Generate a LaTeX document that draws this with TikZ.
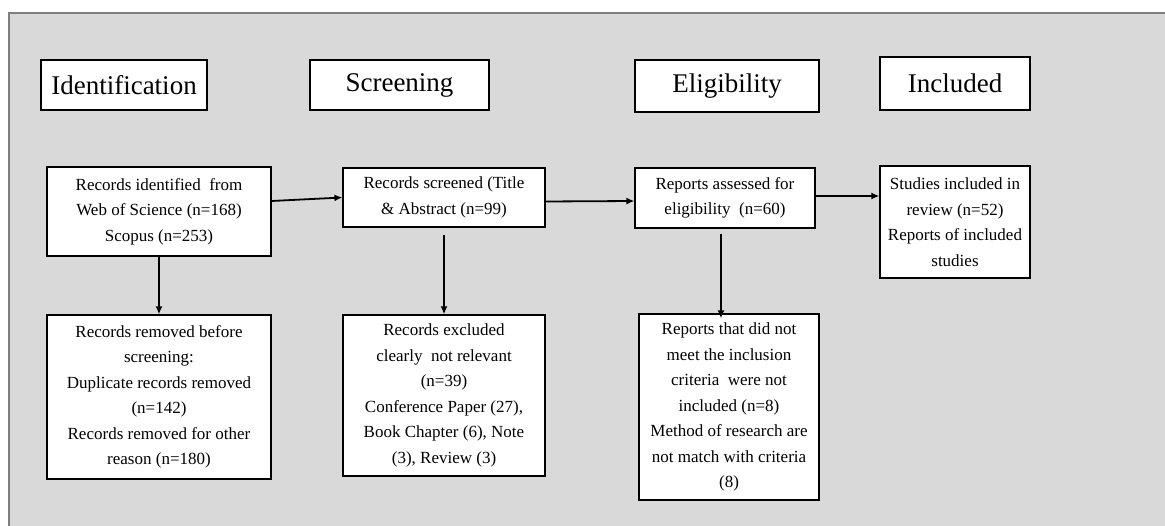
\documentclass[tikz,border=0pt]{standalone}
\usepackage{fontspec}
\setmainfont{Liberation Serif}
\usetikzlibrary{arrows.meta}
\definecolor{panelgray}{HTML}{D9D9D9}
\definecolor{panelline}{HTML}{7F7F7F}

\begin{document}
\begin{tikzpicture}[x=1pt, y=-1pt, >={Latex[length=8pt,width=7pt]},
    phase/.style={draw, fill=white, line width=1.2pt, inner sep=0pt, font=\fontsize{27}{32}\selectfont},
    box/.style={draw, fill=white, line width=1.2pt, inner sep=0pt, align=center, font=\fontsize{17}{25.5}\selectfont},
    flow/.style={->, line width=1.8pt}]
    \useasboundingbox (0,0) rectangle (1165,526);
    \fill[panelgray] (9,13) rectangle (1170,530);
    \draw[panelline, line width=1.2pt] (9,530) -- (9,13) -- (1170,13);

    % phase headers
    \node[phase, minimum width=166pt, minimum height=50pt] (hident) at (124,85) {Identification};
    \node[phase, minimum width=179pt, minimum height=50pt] (hscreen) at (399.5,85) {Screening};
    \node[phase, minimum width=184pt, minimum height=52pt] (helig) at (727,86) {Eligibility};
    \node[phase, minimum width=150pt, minimum height=53pt] (hincl) at (955,83.5) {Included};

    % main flow
    \node[box, minimum width=224pt, minimum height=89pt] (ident) at (159,211.5)
        {Records identified\ \ from\\ Web of Science (n=168)\\ Scopus (n=253)};
    \node[box, minimum width=202pt, minimum height=59pt] (screened) at (444,197.5)
        {Records screened (Title\\ \& Abstract (n=99)};
    \node[box, minimum width=180pt, minimum height=60pt] (assessed) at (725,198)
        {Reports assessed for\\ eligibility\ \ (n=60)};
    \node[box, minimum width=150pt, minimum height=112pt] (studies) at (955,222)
        {Studies included in\\ review (n=52)\\ Reports of included\\ studies};

    % exclusions
    \node[box, minimum width=224pt, minimum height=164pt] (removed) at (159,397)
        {Records removed before\\ screening:\\ Duplicate records removed\\ (n=142)\\ Records removed for other\\ reason (n=180)};
    \node[box, minimum width=202pt, minimum height=161pt] (excluded) at (444,395.5)
        {Records excluded\\ clearly\ \ not relevant\\ (n=39)\\ Conference Paper (27),\\ Book Chapter (6), Note\\ (3), Review (3)};
    \node[box, minimum width=180pt, minimum height=186pt] (notmet) at (729,407)
        {Reports that did not\\ meet the inclusion\\ criteria\ \ were not\\ included (n=8)\\ Method of research are\\ not match with criteria\\ (8)};

    \draw[flow] ([yshift=10.5pt]ident.east) -- (screened.west);
    \draw[flow] ([yshift=-4pt]screened.east) -- ([yshift=-3pt]assessed.west);
    \draw[flow] ([yshift=2pt]assessed.east) -- ([yshift=2pt]assessed.east -| studies.west);
    \draw[flow] (ident.south) -- (removed.north);
    \draw[flow] ([yshift=-7pt]screened.south) -- (excluded.north);
    \draw[flow] ([xshift=-4pt,yshift=-5pt]assessed.south) -- ([xshift=-4pt,yshift=-5pt]assessed.south |- notmet.north);
\end{tikzpicture}
\end{document}
